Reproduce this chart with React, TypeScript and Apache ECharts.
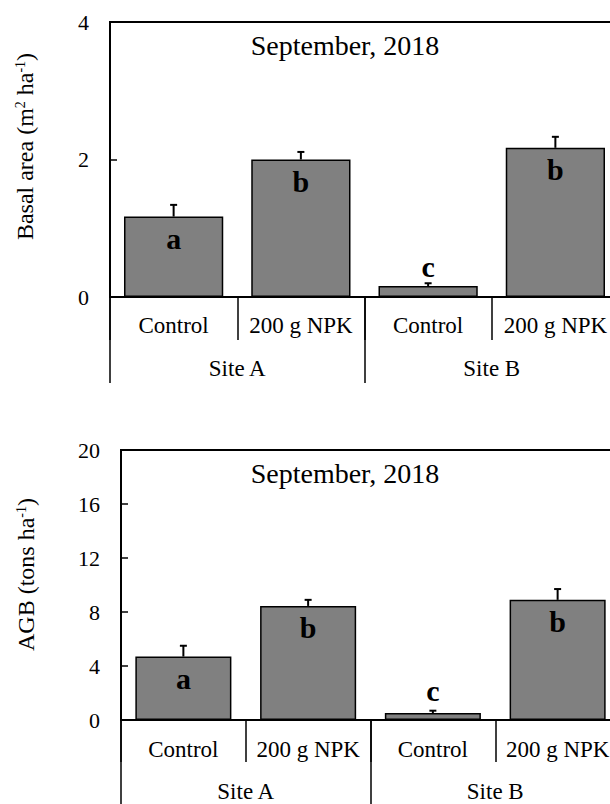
import React, { useEffect, useRef } from "react";
import * as echarts from "echarts";

const categories = ["Control", "200 g NPK", "Control", "200 g NPK"];
const sites = ["Site A", "Site B"];
const basalMean = [1.17, 2.0, 0.16, 2.17];
const basalErr = [0.17, 0.11, 0.04, 0.16];
const agbMean = [4.7, 8.45, 0.52, 8.9];
const agbErr = [0.8, 0.45, 0.17, 0.8];
const letters = ["a", "b", "c", "b"];
const letterAbove = [false, false, true, false];
const basalTicks = { min: 0, max: 4, interval: 2 };
const agbTicks = { min: 0, max: 20, interval: 4 };
const panelTitle = "September, 2018";

const SERIF = "Liberation Serif, serif";

function barSeries(mean: number[], idx: number, topDist: number, inDist: number) {
  return {
    type: "bar",
    xAxisIndex: idx * 2,
    yAxisIndex: idx,
    barWidth: idx === 0 ? "78%" : "77%",
    itemStyle: { color: "#808080", borderColor: "#000", borderWidth: 1.5 },
    data: mean.map((v, i) => ({
      value: v,
      label: {
        show: true,
        formatter: letters[i],
        position: letterAbove[i] ? "top" : "insideTop",
        distance: letterAbove[i] ? topDist : inDist,
        fontFamily: SERIF,
        fontWeight: "bold",
        fontSize: 30,
        color: "#000",
      },
    })),
    z: 2,
  };
}

function errSeries(mean: number[], err: number[], idx: number) {
  return {
    type: "custom",
    xAxisIndex: idx * 2,
    yAxisIndex: idx,
    z: 3,
    encode: { x: 0, y: 1 },
    data: mean.map((v, i) => [i, v, err[i]]),
    renderItem: (params: any, api: any) => {
      const x = api.value(0);
      const v = api.value(1);
      const e = api.value(2);
      const p0 = api.coord([x, v]);
      const p1 = api.coord([x, v + e]);
      return {
        type: "group",
        children: [
          {
            type: "line",
            shape: { x1: p0[0], y1: p0[1], x2: p1[0], y2: p1[1] },
            style: { stroke: "#000", lineWidth: 2 },
          },
          {
            type: "line",
            shape: { x1: p1[0] - 3.5, y1: p1[1], x2: p1[0] + 3.5, y2: p1[1] },
            style: { stroke: "#000", lineWidth: 2 },
          },
        ],
      };
    },
  };
}

function catAxis(grid: number, labelMargin: number, tickLen: number) {
  return {
    type: "category",
    gridIndex: grid,
    position: "bottom",
    data: categories,
    axisLine: { onZero: false, lineStyle: { color: "#000", width: 2 } },
    axisTick: { show: true, length: tickLen, lineStyle: { color: "#000", width: 1.5 } },
    axisLabel: { interval: 0, margin: labelMargin, fontSize: 23, color: "#000", fontFamily: SERIF },
  };
}

function siteAxis(grid: number, labelMargin: number, tickLen: number) {
  return {
    type: "category",
    gridIndex: grid,
    position: "bottom",
    data: sites,
    axisLine: { show: false, onZero: false },
    axisTick: { show: true, length: tickLen, lineStyle: { color: "#000", width: 1.5 } },
    axisLabel: { interval: 0, margin: labelMargin, fontSize: 23, color: "#000", fontFamily: SERIF },
  };
}

function valAxis(grid: number, t: { min: number; max: number; interval: number }) {
  return {
    type: "value",
    gridIndex: grid,
    min: t.min,
    max: t.max,
    interval: t.interval,
    axisLine: { show: true, lineStyle: { color: "#000", width: 2 } },
    axisTick: { show: true, inside: true, length: 7, lineStyle: { color: "#000", width: 1.5 } },
    axisLabel: { margin: 21, fontSize: 22, color: "#000", fontFamily: SERIF },
    splitLine: { show: false },
  };
}

const rich = {
  n: { fontSize: 24, fontFamily: SERIF, color: "#000" },
  s: { fontSize: 14, fontFamily: SERIF, color: "#000", verticalAlign: "top" },
};

export default function App() {
  const ref = useRef<HTMLDivElement>(null);
  useEffect(() => {
    if (!ref.current) return;
    const chart = echarts.init(ref.current, undefined, { renderer: "svg" });
    chart.setOption({
      animation: false,
      textStyle: { fontFamily: SERIF },
      grid: [
        { left: 110, top: 22, width: 509, height: 275, show: true, borderColor: "#000", borderWidth: 2, backgroundColor: "transparent" },
        { left: 121, top: 450, width: 499, height: 270, show: true, borderColor: "#000", borderWidth: 2, backgroundColor: "transparent" },
      ],
      xAxis: [catAxis(0, 17, 43), siteAxis(0, 60, 86), catAxis(1, 18, 42), siteAxis(1, 60, 90)],
      yAxis: [valAxis(0, basalTicks), valAxis(1, agbTicks)],
      series: [
        barSeries(basalMean, 0, 5, 7),
        errSeries(basalMean, basalErr, 0),
        barSeries(agbMean, 1, 7, 7),
        errSeries(agbMean, agbErr, 1),
      ],
      graphic: [
        {
          type: "text",
          x: 345,
          y: 45.5,
          style: { text: panelTitle, fontSize: 28, fontFamily: SERIF, fill: "#000", align: "center", verticalAlign: "middle" },
        },
        {
          type: "text",
          x: 345,
          y: 473,
          style: { text: panelTitle, fontSize: 28, fontFamily: SERIF, fill: "#000", align: "center", verticalAlign: "middle" },
        },
        {
          type: "text",
          x: 25,
          y: 146.5,
          rotation: Math.PI / 2,
          style: {
            text: "{n|Basal area (m}{s|2}{n| ha}{s|-1}{n|)}",
            rich,
            fontFamily: SERIF,
            fontSize: 24,
            align: "center",
            verticalAlign: "middle",
          },
        },
        {
          type: "text",
          x: 26,
          y: 574.5,
          rotation: Math.PI / 2,
          style: {
            text: "{n|AGB (tons ha}{s|-1}{n|)}",
            rich,
            fontFamily: SERIF,
            fontSize: 24,
            align: "center",
            verticalAlign: "middle",
          },
        },
      ],
    });
    return () => chart.dispose();
  }, []);
  return (
    <div style={{ position: "absolute", left: 0, top: 0, width: 610, height: 804, overflow: "hidden", background: "#fff" }}>
      <div ref={ref} style={{ width: 640, height: 804 }} />
    </div>
  );
}
